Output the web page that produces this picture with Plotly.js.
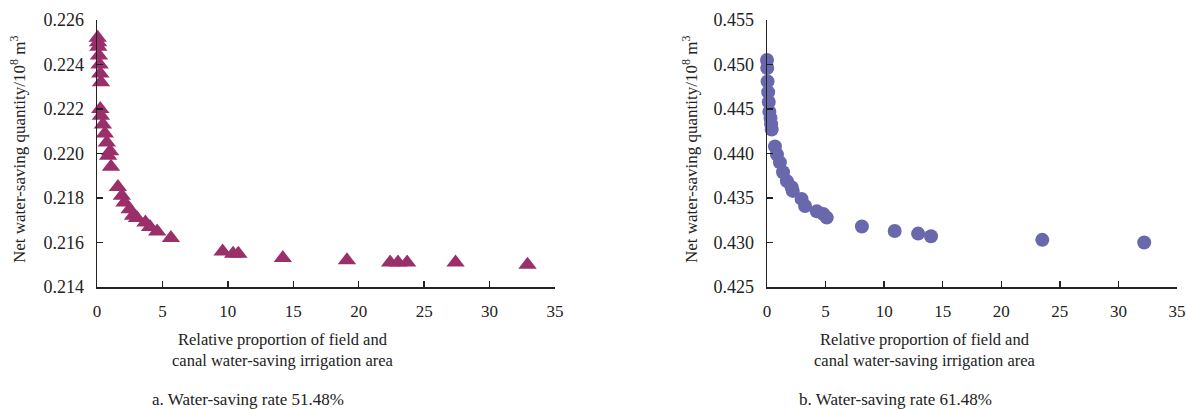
<!DOCTYPE html>
<html>
<head>
<meta charset="utf-8">
<script src="https://cdn.plot.ly/plotly-3.0.1.min.js"></script>
<style>html,body{margin:0;padding:0;background:#fff;}#chart{width:1186px;height:409px;}</style>
</head>
<body>
<div id="chart"></div>
<script>
// Panel a: water-saving rate 51.48%
const aX = [0.05,0.08,0.1,0.15,0.2,0.25,0.3, 0.25,0.3, 0.45,0.6,0.75,1.0, 0.85,1.07, 1.6,1.9,2.1,2.5,2.75,3.05,3.7,4.05,4.6,5.65, 9.6,10.4,10.8,14.2,19.1,22.4,23.0,23.7,27.4,32.9];
const aY = [0.2252,0.2250,0.2248,0.2244,0.2240,0.2236,0.2232, 0.2220,0.2217, 0.2213,0.2209,0.2205,0.2201, 0.2199,0.2194, 0.2185,0.2181,0.2178,0.2175,0.2172,0.2171,0.2169,0.2167,0.2165,0.2162, 0.2156,0.2155,0.2155,0.2153,0.2152,0.2151,0.2151,0.2151,0.2151,0.2150];
// Panel b: water-saving rate 61.48%
const bX = [0.0,0.02,0.05,0.1,0.15,0.2,0.3,0.35,0.4, 0.68,0.85,1.1,1.37,1.7,2.1,2.2,2.95,3.25,4.25,4.8,5.1,8.1,10.9,12.9,14.0,23.5,32.2];
const bY = [0.4505,0.4496,0.4481,0.4469,0.4458,0.4447,0.4440,0.4433,0.4427, 0.4408,0.4399,0.4390,0.4379,0.4369,0.4362,0.4358,0.4349,0.4341,0.4335,0.4332,0.4328,0.4318,0.4313,0.4310,0.4307,0.4303,0.4300];

const xTicks = [0,5,10,15,20,25,30,35];
const aYTicks = [0.214,0.216,0.218,0.220,0.222,0.224,0.226];
const bYTicks = [0.425,0.430,0.435,0.440,0.445,0.450,0.455];

const xTitle = "Relative proportion of field and<br>canal water-saving irrigation area";
const yTitle = "Net water-saving quantity/10<sup>8</sup> m<sup>3</sup>";
const capA = "a. Water-saving rate 51.48%";
const capB = "b. Water-saving rate 61.48%";

const FONT = "Liberation Serif";
const AX = "#222";

const traces = [
  {x: aX, y: aY, type: "scatter", mode: "markers", xaxis: "x", yaxis: "y", cliponaxis: false,
   marker: {symbol: "triangle-up", size: 16, color: "#9a2f6a"}},
  {x: bX, y: bY, type: "scatter", mode: "markers", xaxis: "x2", yaxis: "y2", cliponaxis: false,
   marker: {symbol: "circle", size: 14, color: "#6a68ad"}}
];

function xa(domain, anchor) {
  return {domain: domain, anchor: anchor, range: [0,35], tickvals: xTicks, ticktext: xTicks.map(String),
    ticks: "inside", ticklen: 6, tickwidth: 1.5, tickcolor: AX, showline: true, linecolor: AX, linewidth: 1.5,
    showgrid: false, zeroline: false, ticklabelstandoff: 8, tickfont: {family: FONT, size: 17, color: "#222"}};
}
function ya(domain, anchor, range, tv) {
  return {domain: domain, anchor: anchor, range: range, tickvals: tv, ticktext: tv.map(v => v.toFixed(3)),
    ticks: "inside", ticklen: 6, tickwidth: 1.5, tickcolor: AX, showline: true, linecolor: AX, linewidth: 1.5,
    showgrid: false, zeroline: false, ticklabelstandoff: 8, tickfont: {family: FONT, size: 18, color: "#222"}};
}

const yDom = [1 - 287/409, 1 - 20/409];
const layout = {
  width: 1186, height: 409, margin: {l: 0, r: 0, t: 0, b: 0},
  paper_bgcolor: "#fff", plot_bgcolor: "#fff", showlegend: false,
  font: {family: FONT, color: "#222"},
  xaxis: xa([97/1186, 555/1186], "y"),
  yaxis: ya(yDom, "x", [0.214, 0.226], aYTicks),
  xaxis2: xa([767/1186, 1177/1186], "y2"),
  yaxis2: ya(yDom, "x2", [0.425, 0.455], bYTicks),
  annotations: [
    {text: yTitle, textangle: -90, x: 18/1186, y: 1 - 150/409, xref: "paper", yref: "paper", showarrow: false,
     xanchor: "center", yanchor: "middle", font: {family: FONT, size: 17, color: "#222"}},
    {text: yTitle, textangle: -90, x: 690/1186, y: 1 - 150/409, xref: "paper", yref: "paper", showarrow: false,
     xanchor: "center", yanchor: "middle", font: {family: FONT, size: 17, color: "#222"}},
    {text: xTitle, x: 283/1186, y: 1 - 350/409, xref: "paper", yref: "paper", showarrow: false,
     xanchor: "center", yanchor: "middle", font: {family: FONT, size: 16.5, color: "#222"}},
    {text: xTitle, x: 925/1186, y: 1 - 350/409, xref: "paper", yref: "paper", showarrow: false,
     xanchor: "center", yanchor: "middle", font: {family: FONT, size: 16.5, color: "#222"}},
    {text: capA, x: 248/1186, y: 1 - 399/409, xref: "paper", yref: "paper", showarrow: false,
     xanchor: "center", yanchor: "middle", font: {family: FONT, size: 17, color: "#222"}},
    {text: capB, x: 895/1186, y: 1 - 399/409, xref: "paper", yref: "paper", showarrow: false,
     xanchor: "center", yanchor: "middle", font: {family: FONT, size: 17, color: "#222"}}
  ]
};

Plotly.newPlot("chart", traces, layout, {displayModeBar: false, staticPlot: true});
</script>
</body>
</html>
